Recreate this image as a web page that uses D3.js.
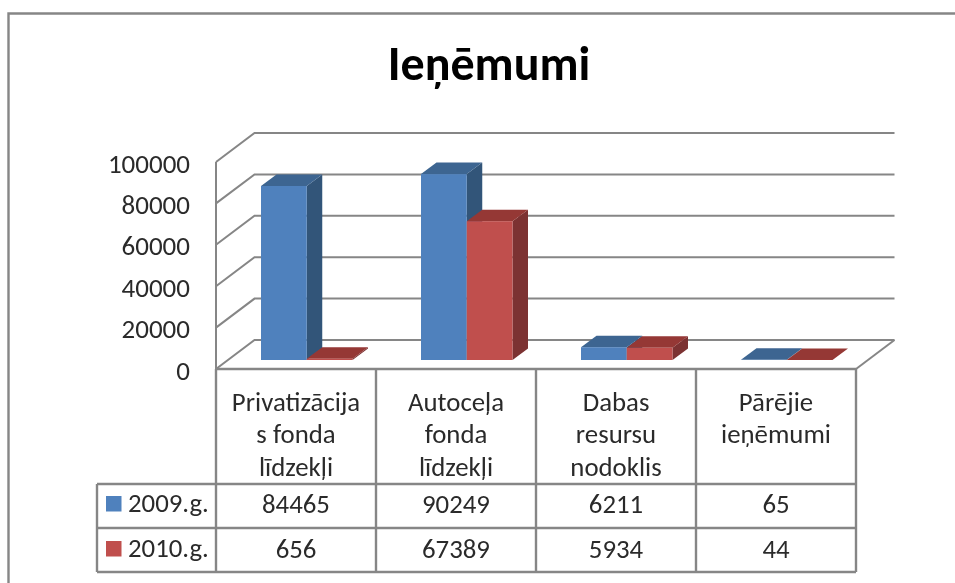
<!DOCTYPE html>
<html><head><meta charset="utf-8">
<script src="https://cdn.jsdelivr.net/npm/d3@7"></script>
<style>
html,body{margin:0;padding:0;background:#fff}
svg{display:block}
text{font-family:Carlito,Lato,"Noto Sans",sans-serif;fill:#2b2b2b}
</style></head><body>
<svg id="c" width="955" height="583"></svg>
<script>
const titleText = "Ieņēmumi";
const categories = ["Privatizācija|s fonda|līdzekļi","Autoceļa|fonda|līdzekļi","Dabas|resursu|nodoklis","Pārējie|ieņēmumi"];
const seriesNames = ["2009.g.","2010.g."];
const values2009 = [84465,90249,6211,65];
const values2010 = [656,67389,5934,44];
const yTicks = [0,20000,40000,60000,80000,100000];

const front = ["#4f81bd","#c0504d"], top_ = ["#3c6591","#953735"], side = ["#335579","#7b3130"];
const gridC = "#868686";
const svg = d3.select("#c");
const defs = svg.append("defs");
defs.append("filter").attr("id","soft").attr("filterUnits","userSpaceOnUse").attr("x",0).attr("y",0).attr("width",955).attr("height",583)
  .append("feGaussianBlur").attr("stdDeviation",0.65);
const g = svg.append("g").attr("filter","url(#soft)");

// geometry
const L=216,R=856,floorY=369,dxW=38.5,dyW=29;
const x = d3.scaleBand().domain(categories).range([L,R]);
const yFront = d3.scaleLinear().domain([0,100000]).range([floorY,162]);
const barBase = 360, yBar = d3.scaleLinear().domain([0,100000]).range([barBase,154]);
const inner = d3.scaleBand().domain([0,1]).range([45,136.5]);
const dxB=15.5,dyB=11.5;

// outer frame: left and top edges are visible, the others run off the picture
g.append("path").attr("fill","none").attr("stroke",gridC).attr("stroke-width",2.4)
  .attr("d",d3.line()([[8.5,600],[8.5,13.5],[975,13.5]]));

// walls & floor
const line=(p)=>d3.line()(p);
yTicks.forEach(t=>{
  const y0=yFront(t);
  g.append("path").attr("fill","none").attr("stroke",gridC).attr("stroke-width",2)
   .attr("d",line([[L,y0],[L+dxW,y0-dyW],[R+dxW,y0-dyW]]));
});
g.append("path").attr("fill","none").attr("stroke",gridC).attr("stroke-width",2)
 .attr("d",line([[L,yFront(100000)],[L,floorY]]));
g.append("path").attr("fill","none").attr("stroke",gridC).attr("stroke-width",2)
 .attr("d",line([[R,floorY],[R+dxW,floorY-dyW]]));

// y axis labels
const axis=d3.axisLeft(yFront).tickValues(yTicks).tickFormat(d3.format("d")).tickSize(0).tickPadding(26);
const ag=g.append("g").attr("transform",`translate(${L},0)`).call(axis);
ag.select(".domain").remove();
ag.attr("font-family",null).attr("font-size",null);
ag.selectAll("text").attr("font-size",27).attr("dy","10px");

// bars
function bar(cat,i,v){
  const x0=x(cat)+inner(i), w=inner.bandwidth(), yt=yBar(v), yb=barBase;
  const b=g.append("g");
  b.append("path").attr("fill",side[i]).attr("d",line([[x0+w,yt],[x0+w+dxB,yt-dyB],[x0+w+dxB,yb-dyB],[x0+w,yb]])+"Z");
  b.append("path").attr("fill",top_[i]).attr("d",line([[x0,yt],[x0+dxB,yt-dyB],[x0+w+dxB,yt-dyB],[x0+w,yt]])+"Z");
  b.append("rect").attr("x",x0).attr("y",yt).attr("width",w).attr("height",yb-yt).attr("fill",front[i]);
}
categories.forEach((c,k)=>{ bar(c,0,values2009[k]); });
categories.forEach((c,k)=>{ bar(c,1,values2010[k]); });

// data table
const rowY=[484,528,572], colX=97;
const tl=(a,b,c,d)=>g.append("line").attr("x1",a).attr("y1",b).attr("x2",c).attr("y2",d).attr("stroke",gridC).attr("stroke-width",2.4);
tl(L,floorY,R,floorY);
categories.forEach(c=>tl(x(c),floorY,x(c),572));
tl(R,floorY,R,572);
rowY.forEach(y=>tl(colX,y,R,y));
tl(colX,484,colX,572);

const fs=26.8;
const baselines=[411,443,476];
categories.forEach(c=>{
  const cx=x(c)+x.bandwidth()/2;
  c.split("|").forEach((s,i)=>g.append("text").attr("x",cx).attr("y",baselines[i]).attr("text-anchor","middle").attr("font-size",fs).text(s));
});
[values2009,values2010].forEach((vals,r)=>{
  const by=r?558:513;
  vals.forEach((v,k)=>{
    const c=categories[k];
    g.append("text").attr("x",x(c)+x.bandwidth()/2).attr("y",by).attr("text-anchor","middle").attr("font-size",fs).text(v);
  });
  g.append("rect").attr("x",106).attr("y",r?541:496).attr("width",15.5).attr("height",15.5).attr("fill",front[r]);
  g.append("text").attr("x",128).attr("y",by-1).attr("font-size",fs).text(seriesNames[r]);
});

g.append("text").attr("x",489).attr("y",80).attr("text-anchor","middle").attr("font-size",48).attr("font-weight",700).style("fill","#000").text(titleText);
</script></body></html>
